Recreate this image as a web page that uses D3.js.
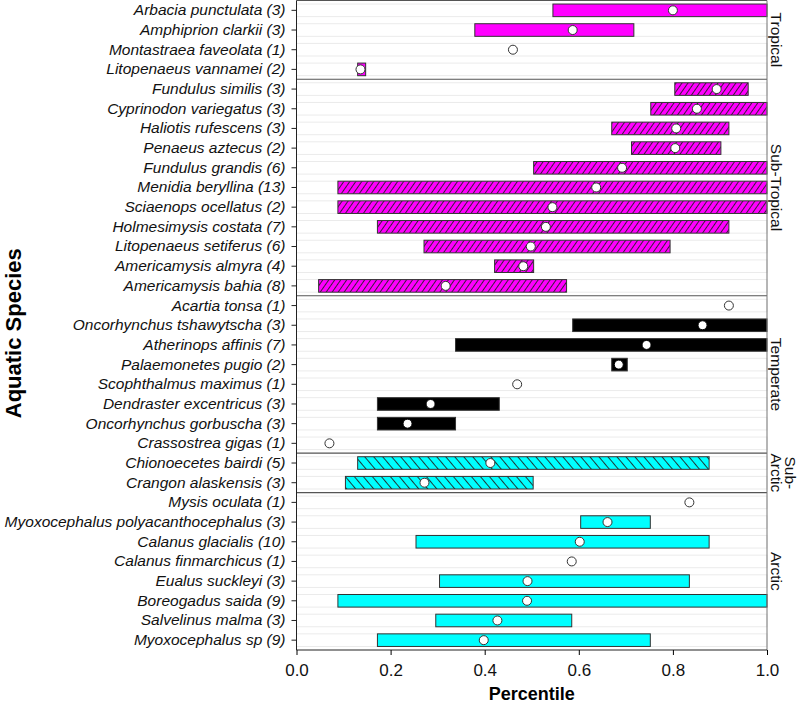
<!DOCTYPE html>
<html>
<head>
<meta charset="utf-8">
<script src="https://cdn.jsdelivr.net/npm/d3@7"></script>
<style>
  body { margin: 0; background: #fff; }
  svg text { font-family: "Liberation Sans", Arial, sans-serif; }
</style>
</head>
<body>
<div id="chart"></div>
<script>
// species, sample counts, zone of each row (top to bottom)
var species = ["Arbacia punctulata", "Amphiprion clarkii", "Montastraea faveolata", "Litopenaeus vannamei",
  "Fundulus similis", "Cyprinodon variegatus", "Haliotis rufescens", "Penaeus aztecus", "Fundulus grandis",
  "Menidia beryllina", "Sciaenops ocellatus", "Holmesimysis costata", "Litopenaeus setiferus",
  "Americamysis almyra", "Americamysis bahia",
  "Acartia tonsa", "Oncorhynchus tshawytscha", "Atherinops affinis", "Palaemonetes pugio",
  "Scophthalmus maximus", "Dendraster excentricus", "Oncorhynchus gorbuscha", "Crassostrea gigas",
  "Chionoecetes bairdi", "Crangon alaskensis",
  "Mysis oculata", "Myoxocephalus polyacanthocephalus", "Calanus glacialis", "Calanus finmarchicus",
  "Eualus suckleyi", "Boreogadus saida", "Salvelinus malma", "Myoxocephalus sp"];
var counts = [3, 3, 1, 2, 3, 3, 3, 2, 6, 13, 2, 7, 6, 4, 8, 1, 3, 7, 2, 1, 3, 3, 1, 5, 3, 1, 3, 10, 1, 3, 9, 3, 9];
var zones = ["Tropical", "Tropical", "Tropical", "Tropical",
  "Sub-Tropical", "Sub-Tropical", "Sub-Tropical", "Sub-Tropical", "Sub-Tropical", "Sub-Tropical",
  "Sub-Tropical", "Sub-Tropical", "Sub-Tropical", "Sub-Tropical", "Sub-Tropical",
  "Temperate", "Temperate", "Temperate", "Temperate", "Temperate", "Temperate", "Temperate", "Temperate",
  "Sub-Arctic", "Sub-Arctic",
  "Arctic", "Arctic", "Arctic", "Arctic", "Arctic", "Arctic", "Arctic", "Arctic"];
// percentile range (null = single value) and median
var lower = [0.545, 0.379, null, 0.13, 0.804, 0.753, 0.670, 0.712, 0.504, 0.088, 0.088, 0.172, 0.271, 0.421, 0.047,
  null, 0.587, 0.338, 0.670, null, 0.172, 0.172, null, 0.130, 0.104,
  null, 0.604, 0.254, null, 0.304, 0.088, 0.296, 0.172];
var upper = [1.0, 0.717, null, 0.147, 0.960, 1.0, 0.919, 0.902, 1.0, 1.0, 1.0, 0.919, 0.794, 0.504, 0.574,
  null, 1.0, 1.0, 0.703, null, 0.431, 0.338, null, 0.877, 0.503,
  null, 0.752, 0.877, null, 0.835, 1.0, 0.585, 0.752];
var median = [0.80, 0.587, 0.46, 0.136, 0.893, 0.851, 0.807, 0.805, 0.692, 0.637, 0.544, 0.530, 0.498, 0.482, 0.317,
  0.919, 0.863, 0.744, 0.685, 0.469, 0.285, 0.236, 0.070, 0.412, 0.272,
  0.835, 0.661, 0.602, 0.585, 0.491, 0.490, 0.427, 0.398];
var xTicks = [0, 0.2, 0.4, 0.6, 0.8, 1.0];
var zoneNames = ["Tropical", "Sub-Tropical", "Temperate", "Sub-Arctic", "Arctic"];

var w = 800, h = 707,
    marginLeft = 296.5, marginRight = 33, marginTop = 0.5, marginBottom = 57,
    cw = w - marginLeft - marginRight, ch = h - marginTop - marginBottom;

var data = species.map(function(s, i) {
  return {name: s, n: counts[i], zone: zones[i], lo: lower[i], hi: upper[i], med: median[i]};
});

var zoneFill = {
  "Tropical": "#ff00ff", "Sub-Tropical": "url(#hatchSub)", "Temperate": "#000000",
  "Sub-Arctic": "url(#hatchArc)", "Arctic": "#00ffff"
};

var svg = d3.select("#chart").append("svg").attr("width", w).attr("height", h);

var defs = svg.append("defs");
var p1 = defs.append("pattern").attr("id", "hatchSub").attr("patternUnits", "userSpaceOnUse")
    .attr("width", 4.9).attr("height", 10).attr("patternTransform", "rotate(35)");
p1.append("rect").attr("width", 4.9).attr("height", 10).attr("fill", "#ff00ff");
p1.append("line").attr("x1", 0.5).attr("x2", 0.5).attr("y1", 0).attr("y2", 10)
    .attr("stroke", "#222").attr("stroke-width", 0.9);
var p2 = defs.append("pattern").attr("id", "hatchArc").attr("patternUnits", "userSpaceOnUse")
    .attr("width", 6.9).attr("height", 10).attr("patternTransform", "rotate(-40)");
p2.append("rect").attr("width", 6.9).attr("height", 10).attr("fill", "#00ffff");
p2.append("line").attr("x1", 0.5).attr("x2", 0.5).attr("y1", 0).attr("y2", 10)
    .attr("stroke", "#222").attr("stroke-width", 0.9);

var g = svg.append("g").attr("transform", "translate(" + marginLeft + "," + marginTop + ")");

var xScale = d3.scaleLinear().domain([0, 1]).range([0, cw]);
var yScale = d3.scaleBand().domain(d3.range(data.length)).range([0, ch]).paddingInner(0.36).paddingOuter(0.18);

// faint row backgrounds
g.append("g").selectAll("rect").data(data).enter().append("rect")
    .attr("x", xScale(0))
    .attr("y", function(d, i) { return yScale(i); })
    .attr("width", xScale(1) - xScale(0))
    .attr("height", yScale.bandwidth())
    .attr("fill", "none")
    .attr("stroke", "#ebebeb")
    .attr("stroke-width", 1);

// range bars
g.append("g").selectAll("rect").data(data.filter(function(d) { return d.lo != null; })).enter().append("rect")
    .attr("x", function(d) { return xScale(d.lo); })
    .attr("y", function(d) { return yScale(data.indexOf(d)); })
    .attr("width", function(d) { return xScale(d.hi) - xScale(d.lo); })
    .attr("height", yScale.bandwidth())
    .attr("fill", function(d) { return zoneFill[d.zone]; })
    .attr("stroke", "#333")
    .attr("stroke-width", 1);

// medians
g.append("g").selectAll("circle").data(data).enter().append("circle")
    .attr("cx", function(d) { return xScale(d.med); })
    .attr("cy", function(d, i) { return yScale(i) + yScale.bandwidth() / 2; })
    .attr("r", 4.5)
    .attr("fill", "#fff")
    .attr("stroke", function(d) { return d.zone == "Temperate" && d.lo != null ? "#000" : "#333"; })
    .attr("stroke-width", 1);

// zone separators and strip labels
var step = yScale.step();
var y0 = yScale(0) - yScale.paddingOuter() * step;
zoneNames.forEach(function(z) {
  var idx = d3.range(data.length).filter(function(i) { return zones[i] == z; });
  var top = y0 + d3.min(idx) * step, bot = y0 + (d3.max(idx) + 1) * step;
  if (z != "Arctic") {
    g.append("line").attr("x1", 0).attr("x2", cw).attr("y1", bot).attr("y2", bot)
        .attr("stroke", "#555").attr("stroke-width", 1.2);
  }
  var lines = z == "Sub-Arctic" ? ["Sub-", "Arctic"] : [z];
  var t = g.append("text")
      .attr("transform", "translate(" + (cw + 4) + "," + ((top + bot) / 2) + ") rotate(90)")
      .attr("text-anchor", "middle")
      .attr("font-size", "15.5px")
      .attr("fill", "#111");
  lines.forEach(function(l, k) {
    t.append("tspan").attr("x", 0)
        .attr("dy", lines.length == 1 ? "0em" : (k == 0 ? "-0.92em" : "0.92em"))
        .text(l);
  });
});

// frame
g.append("line").attr("x1", 0).attr("x2", cw).attr("y1", 0).attr("y2", 0).attr("stroke", "#555");
g.append("line").attr("x1", cw).attr("x2", cw).attr("y1", 0).attr("y2", ch).attr("stroke", "#777");

// axes
var yAxis = d3.axisLeft(yScale).tickSize(5).tickPadding(6)
    .tickFormat(function(i) { return data[i].name + " (" + data[i].n + ")"; });
var yg = g.append("g").attr("class", "y axis").call(yAxis);
yg.select(".domain").attr("stroke", "#222");
yg.selectAll(".tick line").attr("stroke", "#222");
yg.selectAll("text").attr("font-size", "15.5px").attr("font-style", "italic")
    .attr("font-family", "'Liberation Sans', Arial, sans-serif").attr("fill", "#111");
yg.select(".domain").attr("d", "M0,0V" + ch);

var xAxis = d3.axisBottom(xScale).tickValues(xTicks).tickSize(5).tickPadding(9).tickFormat(d3.format(".1f"));
var xg = g.append("g").attr("class", "x axis").attr("transform", "translate(0," + ch + ")").call(xAxis);
xg.select(".domain").attr("d", "M0,0H" + cw).attr("stroke", "#222");
xg.selectAll("text").attr("font-size", "17px")
    .attr("font-family", "'Liberation Sans Narrow', 'Liberation Sans', Arial, sans-serif").attr("fill", "#111");

// titles
svg.append("text")
    .attr("x", marginLeft + cw / 2).attr("y", 700)
    .attr("text-anchor", "middle")
    .attr("font-size", "18px").attr("font-weight", "bold")
    .text("Percentile");
svg.append("text")
    .attr("transform", "translate(21," + (marginTop + ch / 2 + 8) + ") rotate(-90)")
    .attr("text-anchor", "middle")
    .attr("font-size", "22px").attr("font-weight", "bold")
    .text("Aquatic Species");
</script>
</body>
</html>
